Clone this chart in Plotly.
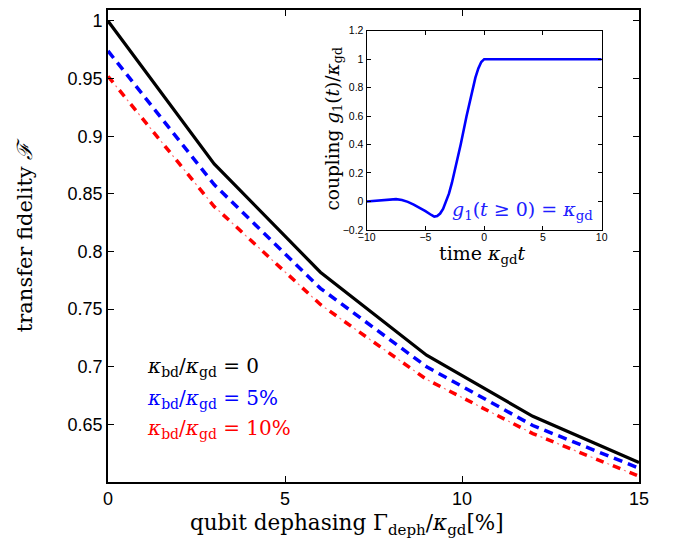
import plotly.graph_objects as go

# Main panel: transfer fidelity vs qubit dephasing (percent)
dephasing = [0, 3, 6, 9, 12, 15]
fid_bd0 = [1.000, 0.876, 0.782, 0.710, 0.657, 0.617]
fid_bd5 = [0.974, 0.858, 0.768, 0.700, 0.649, 0.612]
fid_bd10 = [0.952, 0.839, 0.754, 0.689, 0.642, 0.605]

main_yticks = [0.65, 0.7, 0.75, 0.8, 0.85, 0.9, 0.95, 1]
main_ytext = ["0.65", "0.7", "0.75", "0.8", "0.85", "0.9", "0.95", "1"]
main_xticks = [0, 5, 10, 15]

# Inset: coupling pulse g1(t)/kappa_gd vs time
t_inset = [-10, -9, -8, -7.5, -7, -6.5, -6, -5.5, -5, -4.5, -4.25, -4, -3.75,
           -3.5, -3.25, -3, -2.75, -2.5, -2.25, -2, -1.5, -1, -0.75, -0.5,
           -0.25, 0, 10]
g_inset = [0.0, 0.008, 0.015, 0.016, 0.010, -0.003, -0.022, -0.044, -0.068,
           -0.095, -0.106, -0.102, -0.085, -0.052, -0.005, 0.055, 0.130, 0.215,
           0.305, 0.400, 0.600, 0.790, 0.870, 0.935, 0.980, 1.0, 1.0]
inset_xticks = [-10, -5, 0, 5, 10]
inset_yticks = [-0.2, 0, 0.2, 0.4, 0.6, 0.8, 1, 1.2]
inset_ytext = ["\u22120.2", "0", "0.2", "0.4", "0.6", "0.8", "1", "1.2"]
inset_xtext = ["\u221210", "\u22125", "0", "5", "10"]

W, H = 673, 550
L, R, T, B = 108, 639, 4, 482
SERIF = "DejaVu Serif, serif"
SANS = "Liberation Sans, Arial, Helvetica, sans-serif"


def px(x):
    return (x - L) / (R - L)


def py(y):
    return (B - y) / (B - T)


fig = go.Figure()

fig.add_trace(go.Scatter(x=dephasing, y=fid_bd0, mode="lines",
                         line=dict(color="black", width=3.2)))
fig.add_trace(go.Scatter(x=dephasing, y=fid_bd5, mode="lines",
                         line=dict(color="#0000ff", width=3.5, dash="9px,6px")))
# dash-dot: thick dashes plus thin dots in the gaps
fig.add_trace(go.Scatter(x=dephasing, y=fid_bd10, mode="lines",
                         line=dict(color="#ff0000", width=3.5, dash="8px,10px")))
fig.add_trace(go.Scatter(x=dephasing, y=fid_bd10, mode="lines",
                         line=dict(color="#ff7070", width=1.2,
                                   dash="0px,12px,2px,4px")))

fig.add_trace(go.Scatter(x=t_inset, y=g_inset, mode="lines",
                         line=dict(color="#0000ff", width=2.6),
                         xaxis="x2", yaxis="y2"))

axis_common = dict(showline=True, linecolor="black", mirror="ticks",
                   ticks="inside", tickcolor="black", showgrid=False,
                   zeroline=False)

fig.update_layout(
    width=W, height=H, autosize=False,
    margin=dict(l=L, r=W - R, t=T, b=H - B, pad=0),
    paper_bgcolor="white", plot_bgcolor="white",
    showlegend=False,
    xaxis=dict(range=[0, 15], tickvals=main_xticks,
               ticklen=6, linewidth=1.6, tickwidth=1.2,
               tickfont=dict(family=SANS, size=18, color="black"),
               **axis_common),
    yaxis=dict(range=[0.6, 1.0095], tickvals=main_yticks, ticktext=main_ytext,
               ticklen=6, linewidth=1.6, tickwidth=1.2,
               tickfont=dict(family=SANS, size=18, color="black"),
               **axis_common),
    xaxis2=dict(domain=[px(366.7), px(601.7)], anchor="y2", range=[-10, 10],
                tickvals=inset_xticks, ticktext=inset_xtext,
                ticklen=4, linewidth=1.3, tickwidth=1, ticklabelstandoff=-3,
                tickfont=dict(family=SANS, size=10.5, color="black"),
                **axis_common),
    yaxis2=dict(domain=[py(226.7), py(25)], anchor="x2", range=[-0.2, 1.2],
                tickvals=inset_yticks, ticktext=inset_ytext,
                ticklen=4, linewidth=1.3, tickwidth=1,
                tickfont=dict(family=SANS, size=10.5, color="black"),
                **axis_common),
)

k = "<i>\u03ba</i>"
annotations = [
    dict(x=px(347), y=py(525),
         text="qubit dephasing \u0393<sub>deph</sub>/" + k + "<sub>gd</sub>[%]",
         font=dict(family=SERIF, size=21.5, color="black")),
    dict(x=px(25), y=py(232), textangle=-90,
         text="transfer fidelity <i>\u2131</i>",
         font=dict(family=SERIF, size=21, color="black")),
    dict(x=px(334), y=py(124), textangle=-90,
         text="coupling <i>g</i><sub>1</sub>(<i>t</i>)/" + k + "<sub>gd</sub>",
         font=dict(family=SERIF, size=18.5, color="black")),
    dict(x=px(482), y=py(252),
         text="time " + k + "<sub>gd</sub><i>t</i>",
         font=dict(family=SERIF, size=19, color="black")),
    dict(x=px(522), y=py(207),
         text="<i>g</i><sub>1</sub>(<i>t</i> \u2265 0) = " + k + "<sub>gd</sub>",
         font=dict(family=SERIF, size=19, color="#2020ff")),
    dict(x=px(145), y=py(366), xanchor="left",
         text=k + "<sub>bd</sub>/" + k + "<sub>gd</sub> = 0",
         font=dict(family=SERIF, size=20, color="black")),
    dict(x=px(145), y=py(398), xanchor="left",
         text=k + "<sub>bd</sub>/" + k + "<sub>gd</sub> = 5%",
         font=dict(family=SERIF, size=20, color="#0000ff")),
    dict(x=px(145), y=py(428), xanchor="left",
         text=k + "<sub>bd</sub>/" + k + "<sub>gd</sub> = 10%",
         font=dict(family=SERIF, size=20, color="#ff0000")),
]
for a in annotations:
    a.setdefault("xanchor", "center")
    a.update(xref="paper", yref="paper", yanchor="middle", showarrow=False)
    fig.add_annotation(**a)

fig.write_html("out.html")
